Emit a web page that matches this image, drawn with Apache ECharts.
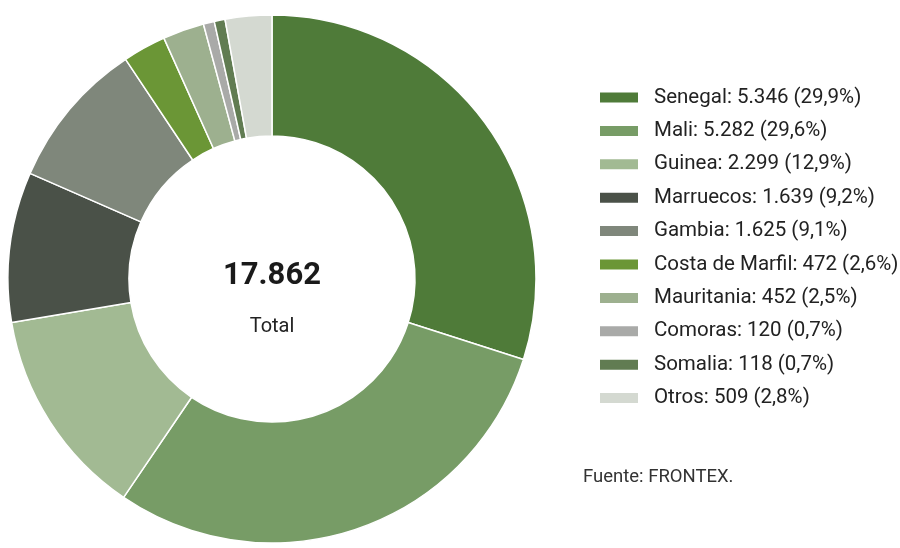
<!DOCTYPE html>
<html>
<head>
<meta charset="utf-8">
<script src="https://cdn.jsdelivr.net/npm/echarts@6/dist/echarts.min.js"></script>
<style>
  html, body { margin: 0; padding: 0; background: #fff; }
  #main { width: 900px; height: 548px; }
</style>
</head>
<body>
<div id="main"></div>
<script>
var countries = ['Senegal', 'Mali', 'Guinea', 'Marruecos', 'Gambia', 'Costa de Marfil', 'Mauritania', 'Comoras', 'Somalia', 'Otros'];
var values = [5346, 5282, 2299, 1639, 1625, 472, 452, 120, 118, 509];
var colors = ['#4f7b39', '#779c66', '#a2ba93', '#4a5148', '#7f877b', '#6b9636', '#9db08f', '#a9aaa8', '#617c52', '#d4d9d1'];
var totalLabel = 'Total';
var sourceText = 'Fuente: FRONTEX.';

var total = values.reduce(function (a, b) { return a + b; }, 0);

function fmtNum(n) {
  return String(n).replace(/\B(?=(\d{3})+(?!\d))/g, '.');
}
function fmtPct(v) {
  return (v / total * 100).toFixed(1).replace('.', ',');
}

// measure centre texts so they sit over the pie centre
var ctx = document.createElement('canvas').getContext('2d');
ctx.font = 'bold 31px Roboto';
var wTotal = ctx.measureText(fmtNum(total)).width;
ctx.font = '20px Roboto';
var wLbl = ctx.measureText(totalLabel).width;

var cx = 272, cy = 279;

var chart = echarts.init(document.getElementById('main'));

var option = {
  animation: false,
  color: colors,
  textStyle: { fontFamily: 'Roboto' },
  legend: {
    orient: 'vertical',
    left: 598,
    top: 87,
    padding: 0,
    icon: 'rect',
    itemWidth: 40,
    itemHeight: 12,
    itemGap: 12.4,
    selectedMode: false,
    textStyle: { fontSize: 20.5, color: '#222', lineHeight: 21, padding: [0, 0, 0, 10] },
    formatter: function (name) {
      var i = countries.indexOf(name);
      return name + ': ' + fmtNum(values[i]) + ' (' + fmtPct(values[i]) + '%)';
    },
    data: countries
  },
  graphic: [
    {
      type: 'text', left: cx - wTotal / 2, top: 261, z: 10,
      style: { text: fmtNum(total), fontSize: 31, fontWeight: 'bold', fill: '#1a1a1a', fontFamily: 'Roboto' }
    },
    {
      type: 'text', left: cx - wLbl / 2, top: 317, z: 10,
      style: { text: totalLabel, fontSize: 20, fill: '#222', fontFamily: 'Roboto' }
    },
    {
      type: 'text', left: 583, top: 468,
      style: { text: sourceText, fontSize: 18.5, fill: '#333', fontFamily: 'Roboto' }
    }
  ],
  series: [{
    type: 'pie',
    center: [cx, cy],
    radius: [143, 264],
    startAngle: 90,
    clockwise: true,
    label: { show: false },
    labelLine: { show: false },
    emphasis: { disabled: true },
    itemStyle: { borderColor: '#fff', borderWidth: 1.5 },
    data: countries.map(function (c, i) { return { name: c, value: values[i] }; })
  }]
};

chart.setOption(option);
</script>
</body>
</html>
